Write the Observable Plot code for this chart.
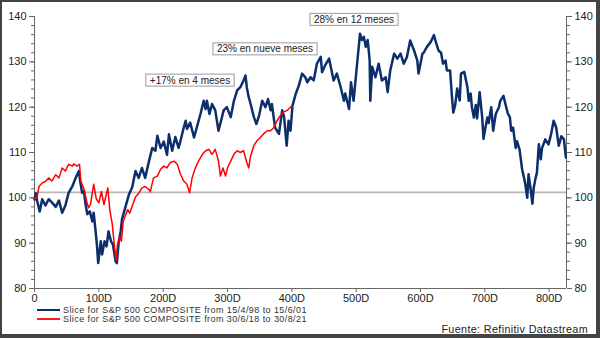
<!DOCTYPE html>
<html>
<head>
<meta charset="utf-8">
<script src="https://cdn.jsdelivr.net/npm/d3@7"></script>
<script src="https://cdn.jsdelivr.net/npm/@observablehq/plot@0.6"></script>
<style>
  html, body { margin: 0; padding: 0; background: #fff; }
  #wrap { position: relative; width: 600px; height: 338px; overflow: hidden; font-family: "Liberation Sans", Arial, sans-serif; }
  #frame { position: absolute; left: 0; top: 0; width: 600px; height: 338px; box-sizing: border-box; border-style: solid; border-color: #444; border-width: 2px 4px 4px 2px; pointer-events: none; }
  #chart { position: absolute; left: 0; top: 0; }
  .leg { position: absolute; left: 37px; height: 9px; line-height: 9px; font-size: 9px; letter-spacing: 0.42px; color: #333; white-space: nowrap; display: flex; align-items: center; }
  .leg span.sw { display: inline-block; width: 23px; height: 2px; margin-right: 3px; }
  #src { position: absolute; right: 12px; top: 323px; font-size: 10.8px; letter-spacing: 0.35px; color: #222; }
</style>
</head>
<body>
<div id="wrap">
  <div id="chart"></div>
  <div class="leg" style="top:305.5px"><span class="sw" style="background:#0c2f6b"></span>Slice for S&amp;P 500 COMPOSITE from 15/4/98 to 15/6/01</div>
  <div class="leg" style="top:314.8px"><span class="sw" style="background:#ff1a1a"></span>Slice for S&amp;P 500 COMPOSITE from 30/6/18 to 30/8/21</div>
  <div id="src">Fuente: Refinitiv Datastream</div>
  <div id="frame"></div>
</div>
<script>
// Series 1: S&P 500 from 15/4/98 (trading day, index base 100)
const blueDays = [0,2,4,8,12,17,22,27,33,38,43,48,53,59,64,69,71,74,77,79,82,86,90,92,95,97,99,103,105,109,112,115,119,122,126,128,131,134,136,141,147,152,157,162,167,172,178,183,188,191,196,201,206,209,214,219,224,227,232,235,237,242,248,253,258,263,266,268,272,276,281,286,290,294,299,305,310,315,320,325,328,330,333,336,341,345,349,354,359,363,367,369,374,380,385,388,392,395,398,401,406,411,416,421,424,429,434,439,445,447,452,458,460,465,470,476,481,483,489,492,496,502,506,509,512,515,518,521,522,525,530,535,540,546,549,553,559,564,569,574,579,584,590,595,597,603,605,610,616,621,623,628,632,635,639,641,646,649,651,654,657,661,663,668,673,675,678,680,683,686,688,692,696,698,701,704,706,710,713,717,722,724,729,732,736,739,741,744,748,750,754,758,761,763,766,768,771,774,776,779,781,784,787,789,794,799,803,807,811,815,819,823,826];
const blueVals = [99.6,101.0,99.4,97.0,99.7,98.3,99.7,99.0,98.0,99.4,96.7,98.3,101.1,102.6,104.4,105.9,103.7,101.1,101.5,98.9,96.4,97.0,94.8,96.7,92.6,89.7,85.6,90.4,87.5,90.4,89.3,92.6,90.4,89.7,86.0,85.6,90.4,92.6,95.3,97.8,100.8,102.4,105.9,104.4,106.6,104.4,108.1,111.0,110.4,113.7,111.0,112.4,109.5,114.0,110.4,113.4,111.0,112.6,115.5,117.0,115.2,116.6,113.3,115.9,118.5,121.4,119.6,121.4,118.5,120.7,119.3,114.8,117.0,119.3,120.0,117.8,121.4,123.7,124.4,125.9,127.0,124.4,122.2,120.7,117.8,116.3,118.1,121.4,120.0,121.8,119.3,120.7,115.5,114.1,119.3,117.8,111.5,117.0,114.8,120.3,122.9,124.8,127.4,126.6,125.5,126.6,125.9,129.6,131.1,127.7,129.3,130.7,129.3,125.9,127.4,124.4,121.4,123.0,119.6,125.5,121.4,130.3,136.2,134.8,135.5,133.3,134.8,130.3,121.4,128.9,126.6,129.6,125.9,126.6,123.3,128.1,131.8,130.7,131.8,129.6,131.1,134.7,132.5,130.3,127.4,131.8,132.0,133.3,134.4,135.9,134.8,132.5,132.0,129.6,130.3,128.1,128.1,122.2,118.8,120.5,124.1,121.5,127.4,127.8,124.4,121.4,123.0,120.0,117.7,120.5,117.5,123.3,117.7,113.0,115.5,117.7,116.5,120.0,114.8,118.5,120.0,121.4,122.5,120.7,118.5,117.8,114.8,115.5,111.0,112.5,110.7,106.3,104.4,103.0,100.0,105.2,102.2,98.7,102.2,104.4,105.5,111.8,108.5,111.0,112.9,111.8,114.0,117.0,115.5,111.5,113.6,112.9,108.9];

// Series 2: S&P 500 from 30/6/18
const redDays = [0,4,7,12,17,22,27,33,38,43,48,53,59,61,66,70,72,77,81,84,87,92,96,100,104,108,110,114,117,121,124,127,129,133,135,138,141,145,148,152,157,162,167,172,178,180,185,191,196,201,206,211,217,222,227,232,237,241,245,250,255,261,266,271,276,281,286,289,293,297,300,305,310,315,320,325,330,333,336,341,346,351,356,362,367,372,377,382,387,393,398,400];
const redVals = [99.8,100.1,102.5,103.3,103.6,104.4,103.7,105.1,104.4,106.6,105.9,107.4,107.0,107.5,107.0,107.4,103.7,101.9,99.3,97.8,98.5,103.0,99.8,98.9,101.4,98.5,99.8,102.2,97.4,94.1,89.7,86.3,89.7,91.5,90.4,94.8,96.0,97.4,96.6,98.2,100.2,101.0,102.2,102.5,101.8,101.3,104.4,104.8,106.3,107.0,106.6,107.8,108.1,107.4,105.2,103.7,103.0,101.1,104.4,106.6,108.1,109.6,110.4,110.7,109.6,110.7,108.1,104.8,106.6,104.8,106.6,108.1,109.6,110.4,110.0,110.4,107.8,106.6,109.3,111.5,112.6,113.3,114.1,114.8,114.8,115.5,117.0,118.1,118.9,119.3,120.0,120.3];

const refLevel = 101.2;
const xTicks = [0,100,200,300,400,500,600,700,800];
const yMajor = [80,90,100,110,120,130,140];
const yMinor = d3.range(80, 141, 2);
const xMax = 827;

const annoLabels = ["+17% en 4 meses", "23% en nueve meses", "28% en 12 meses"];
const annoDays = [241.7, 358.3, 496.7];
const annoVals = [125.9, 132.8, 139.3];

const blue = blueDays.map((d, i) => ({day: d, v: blueVals[i]}));
const red = redDays.map((d, i) => ({day: d, v: redVals[i]}));
const annos = annoLabels.map((t, i) => ({t, day: annoDays[i], v: annoVals[i]}));

const axisColor = "#666";
const chart = Plot.plot({
  width: 600,
  height: 308,
  marginLeft: 34,
  marginRight: 34,
  marginTop: 16,
  marginBottom: 20,
  x: {domain: [0, xMax]},
  y: {domain: [80, 140]},
  style: {fontFamily: "'Liberation Sans', Arial, sans-serif", fontSize: "11px", color: "#222", background: "transparent"},
  marks: [
    Plot.ruleY([refLevel], {stroke: "#b8b8b8", strokeWidth: 1.6}),
    Plot.ruleX([0, xMax], {y1: 80, y2: 140, stroke: axisColor}),
    Plot.ruleY([80], {x1: 0, x2: xMax, stroke: axisColor}),
    Plot.axisY({anchor: "left", ticks: yMinor, tickSize: 3, tickFormat: () => "", label: null, stroke: axisColor}),
    Plot.axisY({anchor: "right", ticks: yMinor, tickSize: 3, tickFormat: () => "", label: null, stroke: axisColor}),
    Plot.axisY({anchor: "left", ticks: yMajor, tickSize: 5, tickPadding: 3, label: null, stroke: axisColor, fill: "#222"}),
    Plot.axisY({anchor: "right", ticks: yMajor, tickSize: 5, tickPadding: 3, label: null, stroke: axisColor, fill: "#222"}),
    Plot.axisX({ticks: xTicks, tickSize: 4, tickPadding: 2, label: null, stroke: axisColor, fill: "#222",
      tickFormat: d => d === 0 ? "0" : d + "D"}),
    Plot.lineY(blue, {x: "day", y: "v", stroke: "#0c2f6b", strokeWidth: 2.5}),
    Plot.lineY(red, {x: "day", y: "v", stroke: "#ff0000", strokeWidth: 1.5}),
    Plot.text(annos, {x: "day", y: "v", text: "t", fontSize: 10, fill: "#222", style: "letter-spacing:0.2px"})
  ]
});
document.getElementById("chart").appendChild(chart);

// draw the boxes behind annotation labels
const svgNS = "http://www.w3.org/2000/svg";
chart.querySelectorAll('g[aria-label="text"] text').forEach(t => {
  const b = t.getBBox();
  const r = document.createElementNS(svgNS, "rect");
  r.setAttribute("x", b.x - 4);
  r.setAttribute("y", b.y - 0.5);
  r.setAttribute("width", b.width + 8);
  r.setAttribute("height", b.height + 1);
  r.setAttribute("fill", "#fff");
  r.setAttribute("stroke", "#9a9a9a");
  r.setAttribute("stroke-width", "1");
  const tr = t.getAttribute("transform");
  if (tr) r.setAttribute("transform", tr);
  t.parentNode.insertBefore(r, t);
});
</script>
</body>
</html>
